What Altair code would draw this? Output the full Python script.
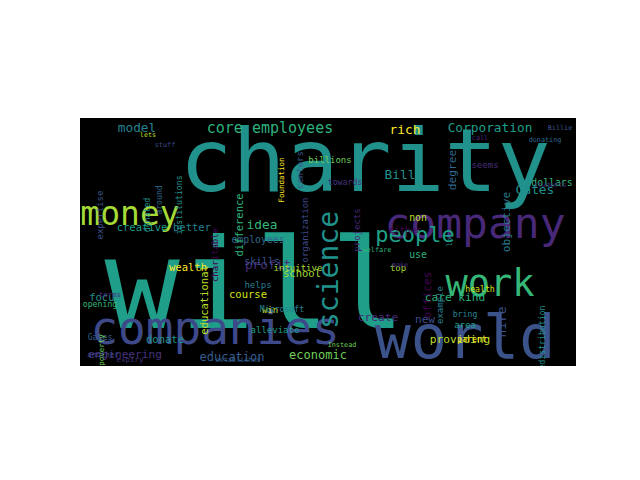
import altair as alt
import pandas as pd

words = ["charity","will","world","companies","company","work","money","people","science",
 "core employees","model","Corporation","rich","Gates","Bill","degree","hire","idea","profit",
 "education","economic","engineering","create","new","providing","care kind","offices","objective",
 "school","course","better","creative","wealth","focus","donate","employees","skills","dollars",
 "seems","centers","billions","towards","projects","organization","educational","difference",
 "charitable","helps","intuitive","win","Microsoft","alleviate","Foundation","institutions",
 "donated","around","expertise","opening","terms","Gates","poverty","expiry","selling","another",
 "non","use","either","example","top","health","bring","area","parent","redistribution","lot",
 "donating","Billie","welfare","make","established","Instead","students","call","stuff","lets"]
xs = [365,255,465,215,475,490,130,415,330,270,137,490,405,535,400,453,502,262,268,232,318,125,378,425,460,455,428,507,302,248,192,142,188,105,165,258,262,552,485,300,330,345,357,305,205,240,215,258,298,270,282,275,282,180,148,160,100,100,110,100,102,130,133,103,418,418,405,440,398,480,465,465,472,543,450,545,560,377,400,238,342,550,480,165,148]
ys = [165,290,340,330,225,285,215,235,270,128,128,128,130,190,175,170,322,225,265,357,355,355,318,320,340,298,295,222,274,295,228,228,268,298,340,240,262,183,165,170,160,183,230,230,300,225,255,285,268,310,310,330,180,205,215,200,215,305,295,338,350,360,370,355,218,255,230,305,268,290,315,325,340,340,240,140,128,250,265,360,345,185,138,145,135]
sizes = [88,125,60,46,43,37,33,22,28,20,17,17,17,17,17,15,17,17,17,16,16,15,15,15,15,15,15,15,14,14,14,14,14,14,14,13,13,13,12,12,12,11,12,12,14,14,12,12,12,12,11,12,10,11,11,11,12,11,10,11,10,10,10,10,13,13,12,12,12,11,11,12,11,11,10,9,9,9,9,9,9,9,9,9,9]
angles = [0,0,0,0,0,0,0,0,270,0,0,0,0,0,0,270,270,0,0,0,0,0,0,0,0,0,270,270,0,0,0,0,0,0,0,0,0,0,0,270,0,0,270,270,270,270,270,0,0,0,0,0,270,270,270,270,270,0,0,0,270,0,0,0,0,0,0,270,0,0,0,0,0,270,270,0,0,0,0,0,0,0,0,0,0]
pal = ["#26818e","#20928c","#3b528b","#365c8d","#482878","#2db27d","#a5db36","#1f9e89","#21918c","#35b779",
       "#6ece58","#3e4a89","#440154","#d2e21b","#fde725","#31688e","#472d7b","#46327e","#bddf26","#287c8e"]
colors = ["#21918c","#1f9e89","#3b528b","#3e4989","#482878","#35b779","#a5db36","#1fa187","#21918c","#2db27d"] + \
         [pal[(i * 7) % len(pal)] for i in range(len(words) - 10)]

df = pd.DataFrame({"w": words, "x": [v - 80 for v in xs], "y": [v - 118 for v in ys],
                   "s": [s if i < 9 else round(s * 0.75, 1) for i, s in enumerate(sizes)],
                   "a": angles, "c": colors})

bg = alt.Chart(df).mark_rect(color="black").encode(
    x=alt.value(0), x2=alt.value(496), y=alt.value(0), y2=alt.value(248))

txt = alt.Chart(df).mark_text(font="DejaVu Sans Mono", baseline="middle", align="center").encode(
    x=alt.X("x:Q", scale=alt.Scale(domain=[0, 496]), axis=None),
    y=alt.Y("y:Q", scale=alt.Scale(domain=[248, 0]), axis=None),
    text="w:N",
    size=alt.Size("s:Q", scale=None),
    angle=alt.Angle("a:Q", scale=None),
    color=alt.Color("c:N", scale=None),
)

chart = alt.layer(bg, txt).properties(width=496, height=248, autosize=alt.AutoSizeParams(type="none"),
             padding={"left": 72, "top": 110, "right": 0, "bottom": 0}
).configure_view(stroke=None, clip=True).configure(background="white")

chart.save("out.html", embed_options={"renderer": "svg", "actions": False})
